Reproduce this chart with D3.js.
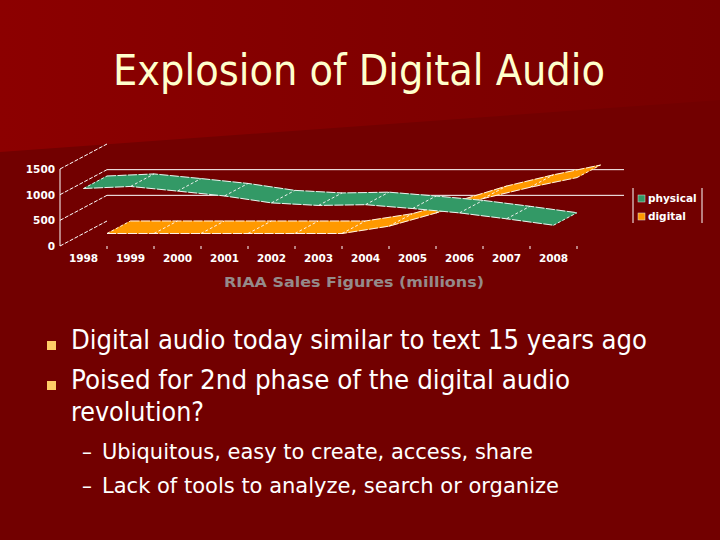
<!DOCTYPE html>
<html>
<head>
<meta charset="utf-8">
<script src="https://cdn.jsdelivr.net/npm/d3@7"></script>
<style>
html,body{margin:0;padding:0;background:#720000;}
svg{display:block;}
</style>
</head>
<body>
<svg id="c" width="720" height="540"></svg>
<script>
// ---- data ----
const years = ['1998','1999','2000','2001','2002','2003','2004','2005','2006','2007','2008'];
const physical = [1120,1160,1070,975,840,790,805,730,645,530,405];
const digital  = [0,0,0,0,0,0,143,400,680,900,1090];
const yTicks = [0,500,1000,1500];
const gridTicks = [500,1000];
const seriesNames = ['physical','digital'];
const seriesColors = ['#339966','#FF9900'];
const titleText = 'Explosion of Digital Audio';
const axisTitle = 'RIAA Sales Figures (millions)';
const bullets = ['Digital audio today similar to text 15 years ago',
                 'Poised for 2nd phase of the digital audio',
                 'revolution?'];
const subBullets = ['Ubiquitous, easy to create, access, share',
                    'Lack of tools to analyze, search or organize'];

const FONT = "'DejaVu Sans Condensed','DejaVu Sans',Verdana,sans-serif";
const LFONT = "'DejaVu Sans',Verdana,sans-serif";
const svg = d3.select('#c');

// ---- background ----
const defs = svg.append('defs');
const lg = defs.append('linearGradient').attr('id','bg').attr('x1','0').attr('y1','0').attr('x2','1').attr('y2','0');
lg.append('stop').attr('offset','0').attr('stop-color','#8c0000');
lg.append('stop').attr('offset','1').attr('stop-color','#770000');
svg.append('rect').attr('width',720).attr('height',540).attr('fill','#720000');
svg.append('path').attr('d','M0,0L720,0L720,100L0,152Z').attr('fill','url(#bg)');

// ---- title ----
svg.append('text').attr('x',359).attr('y',85).attr('text-anchor','middle')
  .attr('font-family',FONT).attr('font-size',43).attr('fill','#FFFFCC')
  .attr('textLength',492).attr('lengthAdjust','spacingAndGlyphs').text(titleText);

// ---- chart scales ----
const x = d3.scaleBand().domain(years).range([60,577]).padding(0);
const bw = x.bandwidth();
const y = d3.scaleLinear().domain([0,1500]).range([246,169]);
const ddx = d3.scaleLinear().domain([0,1]).range([0,47]);
const ddy = d3.scaleLinear().domain([0,1]).range([0,-25]);
const P = (cat,v,d) => [x(cat)+bw/2+ddx(d), y(v)+ddy(d)];

const g = svg.append('g');

// left wall diagonals
g.selectAll('line.wall').data(yTicks).join('line')
  .attr('x1',x.range()[0]).attr('y1',d=>y(d))
  .attr('x2',x.range()[0]+ddx(1)).attr('y2',d=>y(d)+ddy(1))
  .attr('stroke','#fff').attr('stroke-width',1).attr('stroke-dasharray','4,1.5');
// back wall gridlines
g.selectAll('line.grid').data(gridTicks).join('line')
  .attr('x1',x.range()[0]+ddx(1)).attr('y1',d=>y(d)+ddy(1))
  .attr('x2',x.range()[1]+ddx(1)).attr('y2',d=>y(d)+ddy(1))
  .attr('stroke','#fff').attr('stroke-width',1);
// vertical axis
g.append('line').attr('x1',60).attr('x2',60).attr('y1',y(0)).attr('y2',y(1500))
  .attr('stroke','#fff').attr('stroke-width',1);
// y tick labels
g.selectAll('text.yt').data(yTicks).join('text')
  .attr('x',55).attr('y',d=>y(d)+4).attr('text-anchor','end')
  .attr('font-family',LFONT).attr('font-weight','bold').attr('font-size',10.5)
  .attr('fill','#fff').text(d=>d);
// x ticks
const tickXs = years.map(d=>x(d)+bw);
g.selectAll('line.xt').data(tickXs).join('line')
  .attr('x1',d=>d).attr('x2',d=>d).attr('y1',y(0)).attr('y2',y(0)+3)
  .attr('stroke','#fff').attr('stroke-width',1);
g.selectAll('text.xl').data(years).join('text')
  .attr('x',d=>x(d)+bw/2).attr('y',262).attr('text-anchor','middle')
  .attr('font-family',LFONT).attr('font-weight','bold').attr('font-size',10.5)
  .attr('fill','#fff').text(d=>d);

// ribbons
const series = [
  {name:seriesNames[1], vals:digital, color:seriesColors[1], d0:0.5, d1:1},
  {name:seriesNames[0], vals:physical, color:seriesColors[0], d0:0, d1:0.5}
];
const line = d3.line();
series.forEach(s=>{
  const sg = g.append('g');
  const segs = d3.range(years.length-1);
  sg.selectAll('path.face').data(segs).join('path')
    .attr('d',i=>line([P(years[i],s.vals[i],s.d0),P(years[i+1],s.vals[i+1],s.d0),
                       P(years[i+1],s.vals[i+1],s.d1),P(years[i],s.vals[i],s.d1)])+'Z')
    .attr('fill',s.color).attr('stroke',s.color).attr('stroke-width',0.6);
  [s.d0,s.d1].forEach(d=>{
    sg.append('path').attr('d',line(years.map((c,i)=>P(c,s.vals[i],d))))
      .attr('fill','none').attr('stroke','#fff').attr('stroke-width',1)
      .attr('stroke-dasharray','9,1.5').attr('opacity',0.9);
  });
  sg.selectAll('line.sep').data(years).join('line')
    .attr('x1',(c,i)=>P(c,s.vals[i],s.d0)[0]).attr('y1',(c,i)=>P(c,s.vals[i],s.d0)[1])
    .attr('x2',(c,i)=>P(c,s.vals[i],s.d1)[0]).attr('y2',(c,i)=>P(c,s.vals[i],s.d1)[1])
    .attr('stroke','#fff').attr('stroke-width',1).attr('stroke-dasharray','3,2').attr('opacity',0.9);
});

// axis title
svg.append('text').attr('x',354).attr('y',287).attr('text-anchor','middle')
  .attr('font-family',LFONT).attr('font-weight','bold').attr('font-size',14.5)
  .attr('fill','#958a8a').attr('textLength',260).attr('lengthAdjust','spacingAndGlyphs').text(axisTitle);

// legend
const lgG = svg.append('g');
[633,702].forEach(xx=>lgG.append('line').attr('x1',xx).attr('x2',xx).attr('y1',188).attr('y2',223)
  .attr('stroke','#fff').attr('stroke-width',1));
const legItems = [{n:seriesNames[0],c:seriesColors[0]},{n:seriesNames[1],c:seriesColors[1]}];
lgG.selectAll('rect').data(legItems).join('rect')
  .attr('x',638).attr('y',(d,i)=>195+i*18).attr('width',7).attr('height',7)
  .attr('fill',d=>d.c).attr('stroke','#ddd').attr('stroke-width',0.5);
lgG.selectAll('text').data(legItems).join('text')
  .attr('x',648).attr('y',(d,i)=>202+i*18)
  .attr('font-family',LFONT).attr('font-weight','bold').attr('font-size',10.5)
  .attr('fill','#fff').text(d=>d.n);

// bullets
const bl = [
  {t:bullets[0], y:349, len:576, sq:true},
  {t:bullets[1], y:389, len:499, sq:true},
  {t:bullets[2], y:421, len:133, sq:false}
];
bl.forEach(b=>{
  if(b.sq) svg.append('rect').attr('x',47).attr('y',b.y-8).attr('width',9).attr('height',9).attr('fill','#FFCC66');
  svg.append('text').attr('x',71).attr('y',b.y).attr('font-family',FONT).attr('font-size',26)
    .attr('fill','#fff').attr('textLength',b.len).attr('lengthAdjust','spacingAndGlyphs').text(b.t);
});
const sb = [{t:subBullets[0], y:459, len:431},{t:subBullets[1], y:493, len:457}];
sb.forEach(b=>{
  svg.append('text').attr('x',82).attr('y',b.y).attr('font-family',FONT).attr('font-size',22)
    .attr('fill','#fff').text('\u2013');
  svg.append('text').attr('x',102).attr('y',b.y).attr('font-family',FONT).attr('font-size',22)
    .attr('fill','#fff').attr('textLength',b.len).attr('lengthAdjust','spacingAndGlyphs').text(b.t);
});
</script>
</body>
</html>
